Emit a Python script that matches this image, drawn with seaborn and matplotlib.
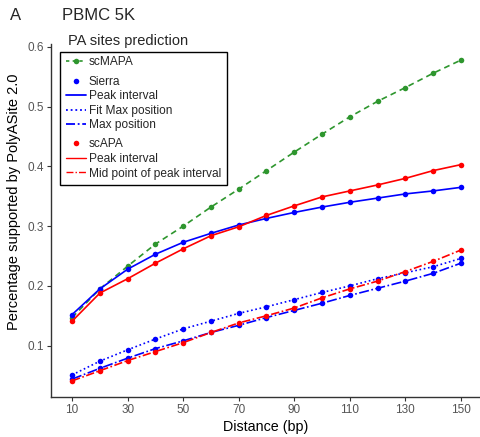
import numpy as np
import pandas as pd
import seaborn as sns
import matplotlib
matplotlib.use("Agg")
import matplotlib.pyplot as plt
from matplotlib.lines import Line2D
from matplotlib.patches import Rectangle

distance = [10, 20, 30, 40, 50, 60, 70, 80, 90, 100, 110, 120, 130, 140, 150]
scmapa = [0.147, 0.195, 0.233, 0.270, 0.300, 0.332, 0.362, 0.393, 0.424, 0.454, 0.483, 0.509, 0.532, 0.556, 0.578]
sierra_peak = [0.152, 0.195, 0.228, 0.253, 0.273, 0.288, 0.302, 0.313, 0.323, 0.332, 0.340, 0.347, 0.354, 0.359, 0.365]
sierra_fitmax = [0.051, 0.074, 0.093, 0.111, 0.128, 0.141, 0.154, 0.165, 0.177, 0.189, 0.200, 0.212, 0.222, 0.232, 0.246]
sierra_max = [0.044, 0.062, 0.079, 0.095, 0.108, 0.122, 0.134, 0.147, 0.159, 0.171, 0.184, 0.196, 0.208, 0.221, 0.238]
scapa_peak = [0.141, 0.188, 0.212, 0.238, 0.262, 0.284, 0.299, 0.318, 0.334, 0.349, 0.359, 0.369, 0.380, 0.393, 0.403]
scapa_mid = [0.041, 0.058, 0.075, 0.090, 0.105, 0.122, 0.138, 0.150, 0.163, 0.180, 0.195, 0.208, 0.224, 0.241, 0.260]

xticks = [10, 30, 50, 70, 90, 110, 130, 150]
yticks = [0.1, 0.2, 0.3, 0.4, 0.5, 0.6]

GREEN = "#2e962e"
BLUE = "#0000ff"
RED = "#ff0000"

sns.set_theme(style="white")
plt.rcParams['font.family'] = ['Liberation Sans', 'DejaVu Sans']

W, H = 480, 437
fig = plt.figure(figsize=(4.8, 4.37), dpi=100)
ax = fig.add_axes([51/W, 40/H, 1 - 51/W, (397-44)/H])

series = [
    (scmapa, GREEN, (0, (3.5, 2.5))),
    (sierra_peak, BLUE, '-'),
    (sierra_fitmax, BLUE, (0, (1, 1.6))),
    (sierra_max, BLUE, (0, (6, 1.5, 1, 1.5))),
    (scapa_peak, RED, '-'),
    (scapa_mid, RED, (0, (5, 1.5, 1, 1.5))),
]
for vals, col, ls in series:
    df = pd.DataFrame({"Distance": distance, "Value": vals})
    sns.lineplot(data=df, x="Distance", y="Value", ax=ax, color=col,
                 linestyle=ls, linewidth=1.2, marker='o', markersize=4,
                 markeredgewidth=0, clip_on=False)

ax.set_xlim(2.4, 156.9)
ax.set_ylim(0.014, 0.605)
ax.set_xticks(xticks)
ax.set_xticklabels([str(t) for t in xticks])
ax.set_yticks(yticks)
ax.set_yticklabels([f"{t:.1f}" for t in yticks])
ax.tick_params(axis='both', which='both', length=3, width=0.8, color='#333333',
               labelcolor='#555555', labelsize=8.5, pad=2, direction='out',
               bottom=True, left=True)
for s in ['top', 'right']:
    ax.spines[s].set_visible(False)
for s in ['left', 'bottom']:
    ax.spines[s].set_color('#333333')
    ax.spines[s].set_linewidth(1.0)
ax.set_xlabel("Distance (bp)", fontsize=10.3, color='black', labelpad=3)
ax.set_ylabel("Percentage supported by PolyASite 2.0", fontsize=10.5, color='black')
ax.yaxis.set_label_coords((21 - 51) / (W - 51), (397 - 202) / (397 - 44))

# legend frame
frame = Rectangle((59.5/W, 1 - 184.7/H), (226.7-59.5)/W, (184.7-52)/H,
                  transform=fig.transFigure, facecolor='white', edgecolor='black',
                  linewidth=1.0, zorder=5)
fig.patches.append(frame)

groups = [
    ([Line2D([], [], color=GREEN, linestyle=(0, (2, 2)), linewidth=1.2, marker='o', markersize=4, markeredgewidth=0)],
     ["scMAPA"], 62.3),
    ([Line2D([], [], color=BLUE, linestyle='none', marker='o', markersize=4, markeredgewidth=0),
      Line2D([], [], color=BLUE, linestyle='-', linewidth=1.3),
      Line2D([], [], color=BLUE, linestyle=(0, (1, 1.6)), linewidth=1.3),
      Line2D([], [], color=BLUE, linestyle=(0, (5, 1.5, 1, 1.5)), linewidth=1.3)],
     ["Sierra", "Peak interval", "Fit Max position", "Max position"], 103.5),
    ([Line2D([], [], color=RED, linestyle='none', marker='o', markersize=4, markeredgewidth=0),
      Line2D([], [], color=RED, linestyle='-', linewidth=1.0),
      Line2D([], [], color=RED, linestyle=(0, (5, 1.5, 1, 1.5)), linewidth=1.0)],
     ["scAPA", "Peak interval", "Mid point of peak interval"], 159.0),
]
for hs, ls_, yc in groups:
    leg = fig.legend(hs, ls_, loc='center left', bbox_to_anchor=(66/W, 1 - yc/H),
                     bbox_transform=fig.transFigure, borderaxespad=0, frameon=False,
                     fontsize=8.6, handlelength=1.7, handletextpad=0.2,
                     labelspacing=0.21, borderpad=0)
    leg.set_zorder(6)

fig.text(68/W, 1 - 41/H, "PA sites prediction", fontsize=10.5, va='center', ha='left')
fig.text(10/W, 1 - 15/H, "A", fontsize=12, va='center', ha='left')
fig.text(62/W, 1 - 15/H, "PBMC 5K", fontsize=12, va='center', ha='left')

fig.savefig("out.png", dpi=100)
